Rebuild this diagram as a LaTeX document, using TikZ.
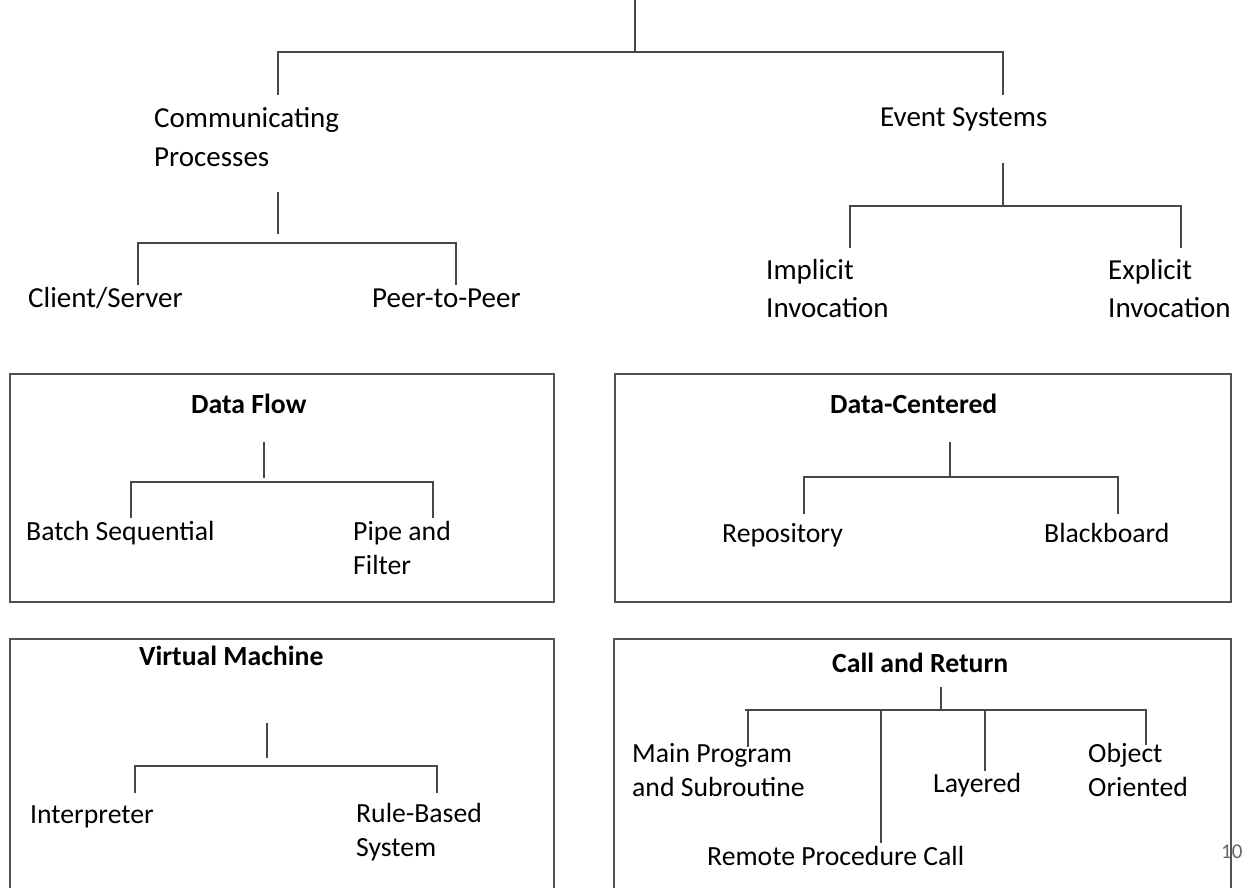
\documentclass[tikz,border=0pt]{standalone}
\usepackage{fontspec}
\setmainfont{Carlito}
\newcommand{\twolines}[2]{\begin{tabular}[t]{@{}l@{}}#1\\#2\end{tabular}}
\begin{document}
\begin{tikzpicture}[x=1pt,y=-1pt,
  lbl/.style={inner sep=0pt, anchor=base west, font=\fontsize{29}{38.5}\selectfont},
  blbl/.style={inner sep=0pt, anchor=base west, font=\fontsize{27.7}{34.5}\selectfont},
  head/.style={inner sep=0pt, anchor=base west, font=\fontsize{27.7}{34.5}\selectfont\bfseries},
  conn/.style={draw=black!72, line width=2pt},
  frame/.style={draw=black!68, line width=2pt}]
\useasboundingbox (0,0) rectangle (1245,888);
\clip (0,0) rectangle (1245,888);

% ---------- top tree ----------
\node[lbl] (cp) at (154,128) {\twolines{Communicating}{Processes}};
\node[lbl] (es) at (880,127) {Event Systems};
\node[lbl] (cs) at (28,307) {Client/Server};
\node[lbl] (pp) at (372,307) {Peer-to-Peer};
\node[lbl] (ii) at (766,279) {\twolines{Implicit}{Invocation}};
\node[lbl] (ei) at (1108,279) {\twolines{Explicit}{Invocation}};

\coordinate (t0) at (635,0);   \coordinate (t1) at (635,52);
\coordinate (tL) at (278,52);  \coordinate (tR) at (1003,52);
\coordinate (tLd) at (278,95); \coordinate (tRd) at (1003,95);
\draw[conn] (t0) -- (t1);
\draw[conn] (tLd) -- (tL) -- (tR) -- (tRd);

\coordinate (c0) at (278,192); \coordinate (c1) at (278,234);
\coordinate (cL) at (138,243); \coordinate (cR) at (456,243);
\coordinate (cLd) at (138,285); \coordinate (cRd) at (456,285);
\draw[conn] (c0) -- (c1);
\draw[conn] (cLd) -- (cL) -- (cR) -- (cRd);

\coordinate (e0) at (1003,163); \coordinate (e1) at (1003,206);
\coordinate (eL) at (850,206);  \coordinate (eR) at (1181,206);
\coordinate (eLd) at (850,248); \coordinate (eRd) at (1181,248);
\draw[conn] (e0) -- (e1);
\draw[conn] (eLd) -- (eL) -- (eR) -- (eRd);

% ---------- Data Flow ----------
\draw[frame] (10,374) rectangle (554,602);
\node[head] (df) at (191,413) {Data Flow};
\node[blbl] (bs) at (26,540) {Batch Sequential};
\node[blbl] (pf) at (353,540) {\twolines{Pipe and}{Filter}};
\coordinate (d0) at (264,442); \coordinate (d1) at (264,478);
\coordinate (dL) at (131,482); \coordinate (dR) at (433,482);
\coordinate (dLd) at (131,518); \coordinate (dRd) at (433,518);
\draw[conn] (d0) -- (d1);
\draw[conn] (dLd) -- (dL) -- (dR) -- (dRd);

% ---------- Data-Centered ----------
\draw[frame] (615,374) rectangle (1231,602);
\node[head] (dc) at (830,413) {Data-Centered};
\node[blbl] (rep) at (722,542) {Repository};
\node[blbl] (bb) at (1044,542) {Blackboard};
\coordinate (k0) at (950,442); \coordinate (k1) at (950,477);
\coordinate (kL) at (804,477); \coordinate (kR) at (1118,477);
\coordinate (kLd) at (804,514); \coordinate (kRd) at (1118,514);
\draw[conn] (k0) -- (k1);
\draw[conn] (kLd) -- (kL) -- (kR) -- (kRd);

% ---------- Virtual Machine ----------
\draw[frame] (10,639) rectangle (554,905);
\node[head] (vm) at (139,665) {Virtual Machine};
\node[blbl] (int) at (30,823) {Interpreter};
\node[blbl] (rb) at (356,822) {\twolines{Rule-Based}{System}};
\coordinate (v0) at (267,723); \coordinate (v1) at (267,758);
\coordinate (vL) at (135,766); \coordinate (vR) at (437,766);
\coordinate (vLd) at (135,793); \coordinate (vRd) at (437,793);
\draw[conn] (v0) -- (v1);
\draw[conn] (vLd) -- (vL) -- (vR) -- (vRd);

% ---------- Call and Return ----------
\node[inner sep=0pt, anchor=base west, text=black!60,
      font=\fontsize{21}{24}\selectfont] (pg) at (1221,858) {10};
\draw[frame] (614,639) rectangle (1231,905);
\node[head] (cr) at (832,672) {Call and Return};
\node[blbl] (mp) at (632,762) {\twolines{Main Program}{and Subroutine}};
\node[blbl] (rpc) at (707,865) {Remote Procedure Call};
\node[blbl] (lay) at (933,792) {Layered};
\node[blbl] (oo) at (1088,762) {\twolines{Object}{Oriented}};
\coordinate (r0) at (941,687); \coordinate (r1) at (941,710);
\coordinate (rL) at (745,710); \coordinate (rR) at (1147,710);
\coordinate (rM) at (748,710); \coordinate (rMd) at (748,747);
\coordinate (rP) at (881,710); \coordinate (rPd) at (881,843);
\coordinate (rY) at (985,710); \coordinate (rYd) at (985,771);
\coordinate (rO) at (1146,710); \coordinate (rOd) at (1146,745);
\draw[conn] (r0) -- (r1);
\draw[conn] (rL) -- (rR);
\draw[conn] (rM) -- (rMd);
\draw[conn] (rP) -- (rPd);
\draw[conn] (rY) -- (rYd);
\draw[conn] (rO) -- (rOd);
\end{tikzpicture}
\end{document}
